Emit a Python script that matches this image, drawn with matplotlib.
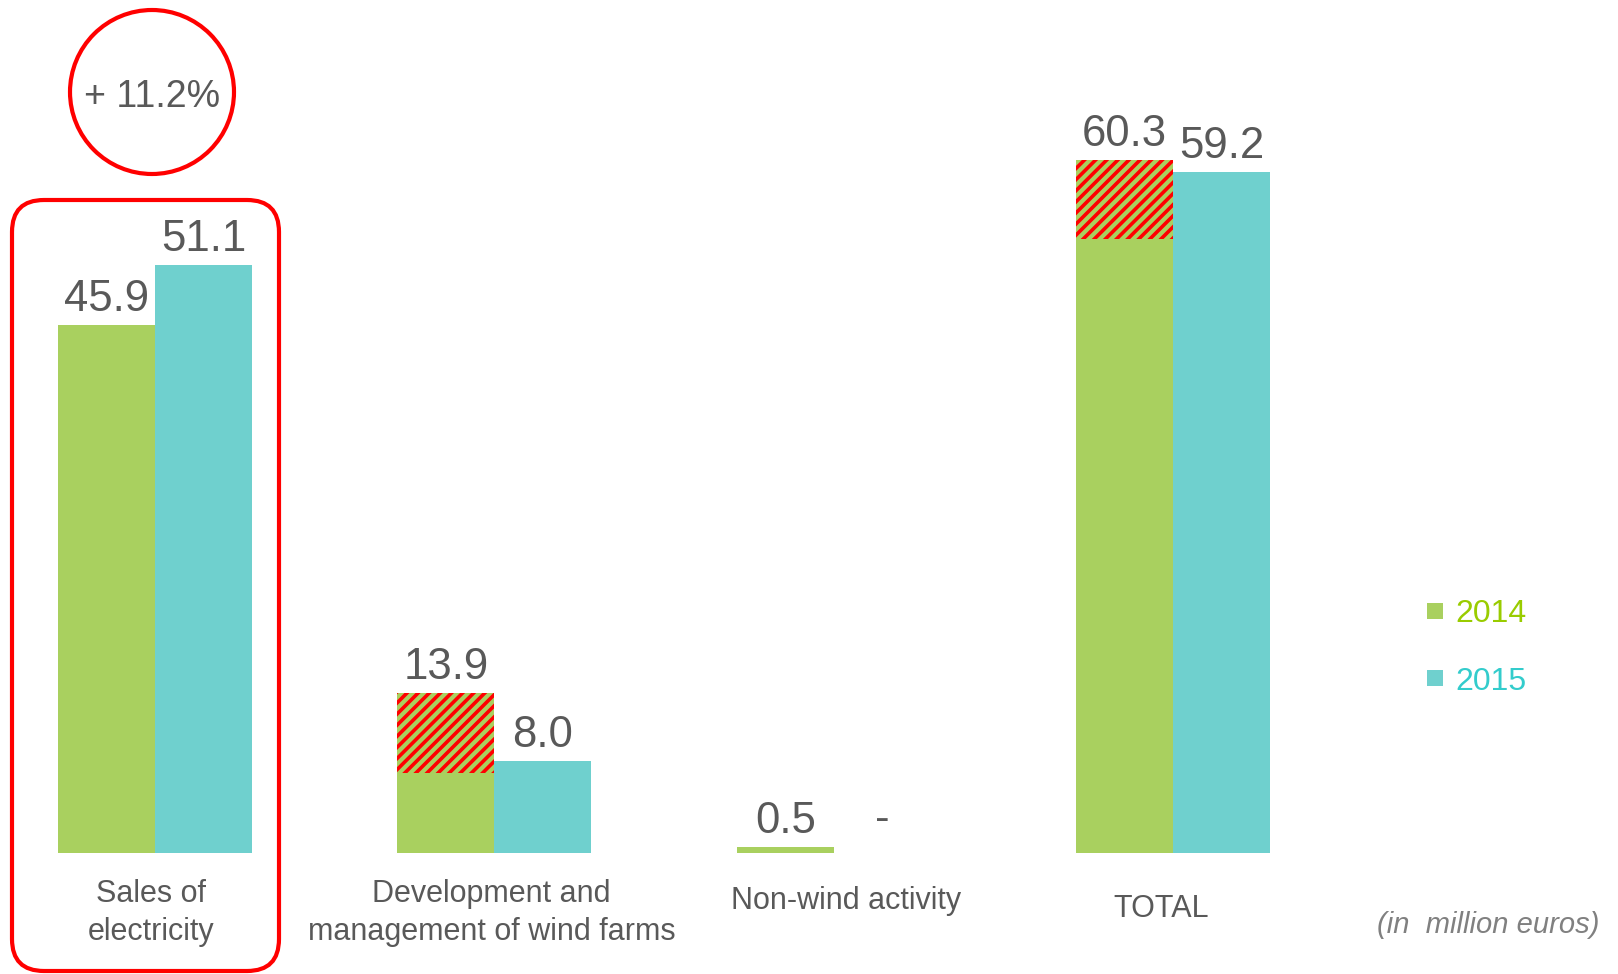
import numpy as np
import matplotlib
matplotlib.use("Agg")
import matplotlib.pyplot as plt
from matplotlib.patches import Circle, FancyBboxPatch, Rectangle

plt.rcParams['font.family'] = ['Liberation Sans', 'DejaVu Sans']
plt.rcParams['hatch.linewidth'] = 2.6

# data (in million euros)
categories = ["Sales of\nelectricity", "Development and\nmanagement of wind farms",
              "Non-wind activity", "TOTAL"]
years = ["2014", "2015"]
v2014 = [45.9, 13.9, 0.5, 60.3]
v2015 = [51.1, 8.0, 0.0, 59.2]
one_off_2014 = [0.0, 6.9, 0.0, 6.9]   # hatched part of the 2014 bars
growth_label = "+ 11.2%"
unit_note = "(in  million euros)"

green = "#a9d05f"
teal = "#6fd0ce"
green_txt = "#99cc00"
teal_txt = "#33cccc"
grey = "#595959"

# category label placement (pixels): vertical centre and horizontal nudge
label_y_px = [913, 913, 901, 909]
label_dx_px = [-4, -3, 12, -12]

fig = plt.figure(figsize=(16.18, 9.74), dpi=100)
ax = fig.add_axes([0, 0, 1, 1])
ax.set_xlim(-0.457, 4.311)
ax.set_ylim(-10.52, 74.17)
ax.axis("off")

x = np.arange(len(categories))
w = 0.286
base = np.array(v2014) - np.array(one_off_2014)

ax.bar(x - w/2, base, w, color=green, lw=0)
ax.bar(x - w/2, one_off_2014, w, bottom=base, color=green, edgecolor="red",
       hatch="///", lw=0)
ax.bar(x + w/2, v2015, w, color=teal, lw=0)

# value labels
for xi, v in zip(x - w/2, v2014):
    ax.annotate(f"{v:.1f}", (xi, v), xytext=(0, 10), textcoords="offset points",
                ha="center", va="baseline", fontsize=31.5, color=grey)
for xi, v in zip(x + w/2, v2015):
    lab = "-" if v == 0 else f"{v:.1f}"
    dy = 16 if v == 0 else 10
    ax.annotate(lab, (xi, v), xytext=(0, dy), textcoords="offset points",
                ha="center", va="baseline", fontsize=31.5, color=grey)

# overlay in pixel units for labels and decorations
ov = fig.add_axes([0, 0, 1, 1], facecolor="none")
ov.set_xlim(0, 1618)
ov.set_ylim(974, 0)
ov.axis("off")

# category labels: x from the data axis, y in pixels
for xi, c, yp, dx in zip(x, categories, label_y_px, label_dx_px):
    xp = ax.transData.transform((xi, 0))[0] + dx
    ov.text(xp, yp, c, ha="center", va="center", fontsize=22, color=grey,
            linespacing=1.35)

ov.add_patch(Circle((152, 92), 82, fill=False, ec="red", lw=3))
ov.text(152, 93, growth_label, ha="center", va="center_baseline", fontsize=27,
        color=grey)
ov.add_patch(FancyBboxPatch((12, 200), 267, 771,
                            boxstyle="round,pad=0,rounding_size=32",
                            fill=False, ec="red", lw=3))

# legend
for yy, col, tcol, lab in zip([611, 678], [green, teal], [green_txt, teal_txt], years):
    ov.add_patch(Rectangle((1427, yy - 8), 16, 16, color=col, lw=0))
    ov.text(1455, yy, lab, ha="left", va="center_baseline", fontsize=23, color=tcol)

ov.text(1600, 922, unit_note, ha="right", va="center_baseline", fontsize=21,
        color="#808080", style="italic")

fig.savefig("out.png", dpi=100)
